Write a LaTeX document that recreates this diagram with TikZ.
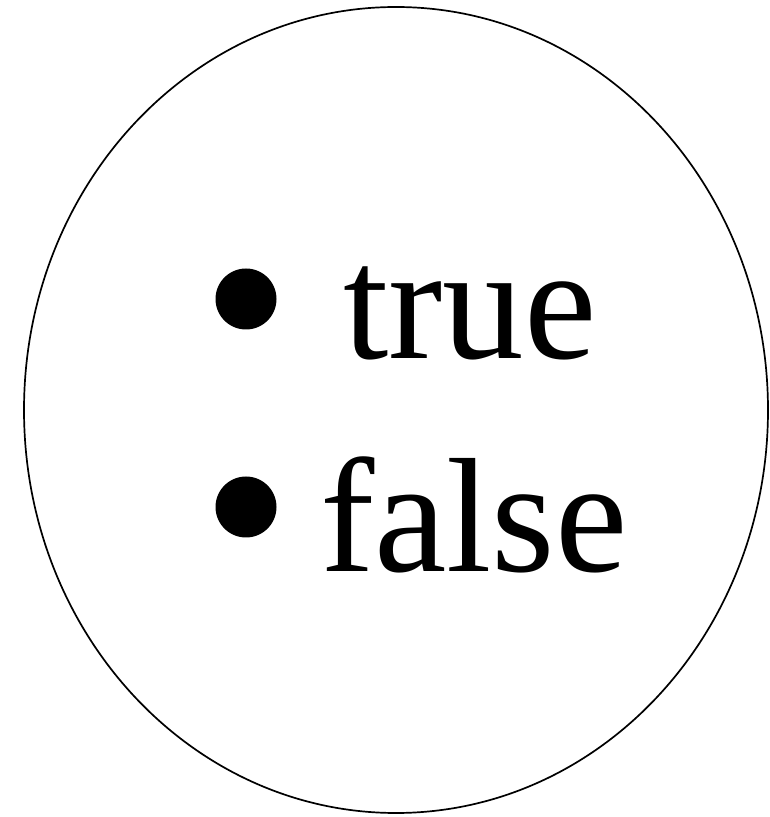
\documentclass[tikz,border=0pt]{standalone}
\usepackage{fontspec}
\setmainfont{Liberation Serif}
\begin{document}
\begin{tikzpicture}[x=1pt,y=1pt,
  bigtext/.style={inner sep=0pt, outer sep=0pt, anchor=base west,
    font=\fontsize{163}{196}\selectfont},
  dot/.style={circle, fill=black, inner sep=0pt, minimum size=61pt}]
\useasboundingbox (0,0) rectangle (770,817);
\draw[line width=1.7pt] (396,407) ellipse [x radius=372, y radius=403];
\node[dot] (b1) at (246,518) {};
\node[bigtext] (t1) at (343,458) {true};
\node[dot] (b2) at (246,310) {};
\node[bigtext] (t2) at (320,245) {false};
\end{tikzpicture}
\end{document}
